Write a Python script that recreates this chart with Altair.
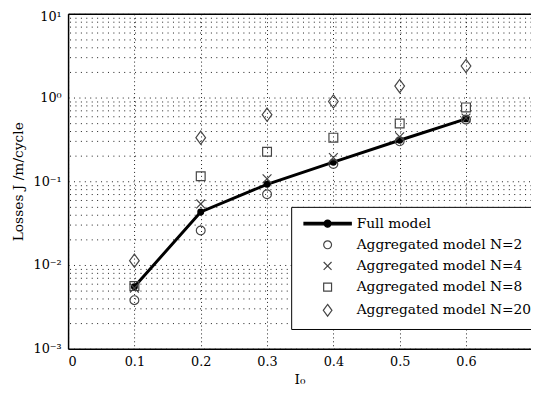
import altair as alt
import pandas as pd

# ---- data ----
currents = [0.1, 0.2, 0.3, 0.4, 0.5, 0.6]
full_model = [0.0055, 0.043, 0.092, 0.169, 0.309, 0.556]
agg_n2 = [0.0038, 0.0258, 0.070, 0.161, 0.300, 0.545]
agg_n4 = [0.0053, 0.0536, 0.107, 0.192, 0.340, 0.570]
agg_n8 = [0.0056, 0.1146, 0.225, 0.332, 0.490, 0.762]
agg_n20 = [0.01125, 0.332, 0.625, 0.897, 1.370, 2.380]

series_names = [
    "Full model",
    "Aggregated model N=2",
    "Aggregated model N=4",
    "Aggregated model N=8",
    "Aggregated model N=20",
]
x_ticks = [0, 0.1, 0.2, 0.3, 0.4, 0.5, 0.6]
y_major = [0.001, 0.01, 0.1, 1, 10]
y_minor = [m * 10.0 ** e for e in range(-3, 1) for m in range(2, 10)]

FONT = "DejaVu Serif"

full_df = pd.DataFrame({"I0": currents, "loss": full_model})
agg_df = pd.DataFrame(
    {
        "I0": currents * 4,
        "loss": agg_n2 + agg_n4 + agg_n8 + agg_n20,
        "series": [series_names[1]] * 6 + [series_names[2]] * 6
        + [series_names[3]] * 6 + [series_names[4]] * 6,
    }
)

# legend glyph for the full model: thick bar + filled dot
shapes = [
    "M-6,-0.3H6V0.3H-6ZM0.9,0A0.9,0.9,0,1,1,-0.9,0A0.9,0.9,0,1,1,0.9,0Z",
    "circle",
    "M-1,-1L1,1M-1,1L1,-1",
    "square",
    "M0,-1.5L1.1,0L0,1.5L-1.1,0Z",
]
fills = ["black", "transparent", "transparent", "transparent", "transparent"]
strokes = ["black", "#454545", "#454545", "#454545", "#454545"]

xscale = alt.Scale(domain=[0, 0.698], nice=False, zero=False)
yscale = alt.Scale(type="log", domain=[0.001, 10], nice=False)

grid_common = dict(gridColor="#000000", gridOpacity=0.9, gridWidth=1)

line = alt.Chart(full_df).mark_line(color="black", strokeWidth=3).encode(
    x=alt.X(
        "I0:Q",
        scale=xscale,
        axis=alt.Axis(
            values=x_ticks,
            labelExpr="datum.value == 0 ? '0' : format(datum.value, '.1f')",
            grid=True,
            gridDash=[1, 3],
            ticks=False,
            domain=True,
            domainColor="black",
            domainWidth=1.5,
            labelPadding=7,
            labelFontSize=13,
            labelFont=FONT,
            labelColor="black",
            title="I₀",
            titleFont=FONT,
            titleFontSize=14,
            titleFontWeight="normal",
            titleColor="black",
            titlePadding=4,
            **grid_common,
        ),
    ),
    y=alt.Y(
        "loss:Q",
        scale=yscale,
        axis=alt.Axis(
            values=y_major,
            labelExpr="datum.value >= 5 ? '10¹' : datum.value >= 0.5 ? '10⁰' : datum.value >= 0.05 ? '10⁻¹' : datum.value >= 0.005 ? '10⁻²' : '10⁻³'",
            labelOffset={"condition": {"test": "datum.value >= 5", "value": 3}, "value": 0},
            grid=True,
            gridDash=[1, 4.5],
            ticks=False,
            domain=True,
            domainColor="black",
            domainWidth=1.5,
            labelPadding=7,
            labelFontSize=13,
            labelFont=FONT,
            labelColor="black",
            title="Losses J /m/cycle",
            titleFont=FONT,
            titleFontSize=14,
            titleFontWeight="normal",
            titleColor="black",
            titlePadding=8,
            **grid_common,
        ),
    ),
)

dots = alt.Chart(full_df).mark_point(
    shape="circle", filled=True, color="black", size=50, opacity=1
).encode(
    x=alt.X(
        "I0:Q",
        scale=xscale,
        axis=alt.Axis(
            orient="top",
            labels=False,
            ticks=False,
            grid=False,
            domain=True,
            domainColor="black",
            domainWidth=1.5,
            title=None,
        ),
    ),
    y=alt.Y(
        "loss:Q",
        scale=yscale,
        axis=alt.Axis(
            orient="right",
            values=y_minor,
            labels=False,
            ticks=False,
            domain=False,
            grid=True,
            gridDash=[1, 4.5],
            title=None,
            **grid_common,
        ),
    ),
)

legend = alt.Legend(
    title=None,
    orient="none",
    legendX=226.5,
    legendY=196,
    padding=10,
    symbolOffset=20,
    symbolSize=64,
    labelOffset=22.5,
    rowPadding=7.5,
    labelFont=FONT,
    labelFontSize=14,
    labelColor="black",
    labelLimit=400,
    strokeColor="black",
    fillColor="white",
    cornerRadius=0,
    symbolOpacity=1,
    symbolStrokeWidth=1.2,
)

markers = alt.Chart(agg_df).mark_point(
    filled=False, strokeWidth=1.2, size=80, opacity=1
).encode(
    x=alt.X("I0:Q", scale=xscale, axis=None),
    y=alt.Y("loss:Q", scale=yscale, axis=None),
    shape=alt.Shape(
        "series:N",
        scale=alt.Scale(domain=series_names, range=shapes),
        legend=legend,
    ),
    fill=alt.Fill("series:N", scale=alt.Scale(domain=series_names, range=fills), legend=legend),
    stroke=alt.Stroke("series:N", scale=alt.Scale(domain=series_names, range=strokes), legend=legend),
)

chart = (
    alt.layer(line, dots, markers)
    .resolve_axis(x="independent", y="independent")
    .properties(
        width=470,
        height=340,
        autosize=alt.AutoSizeParams(type="none"),
        padding={"left": 61, "top": 3, "right": 0, "bottom": 38},
        background="white",
    )
    .configure_view(stroke=None)
)

chart.save("out.html", embed_options={"renderer": "svg", "actions": False})
